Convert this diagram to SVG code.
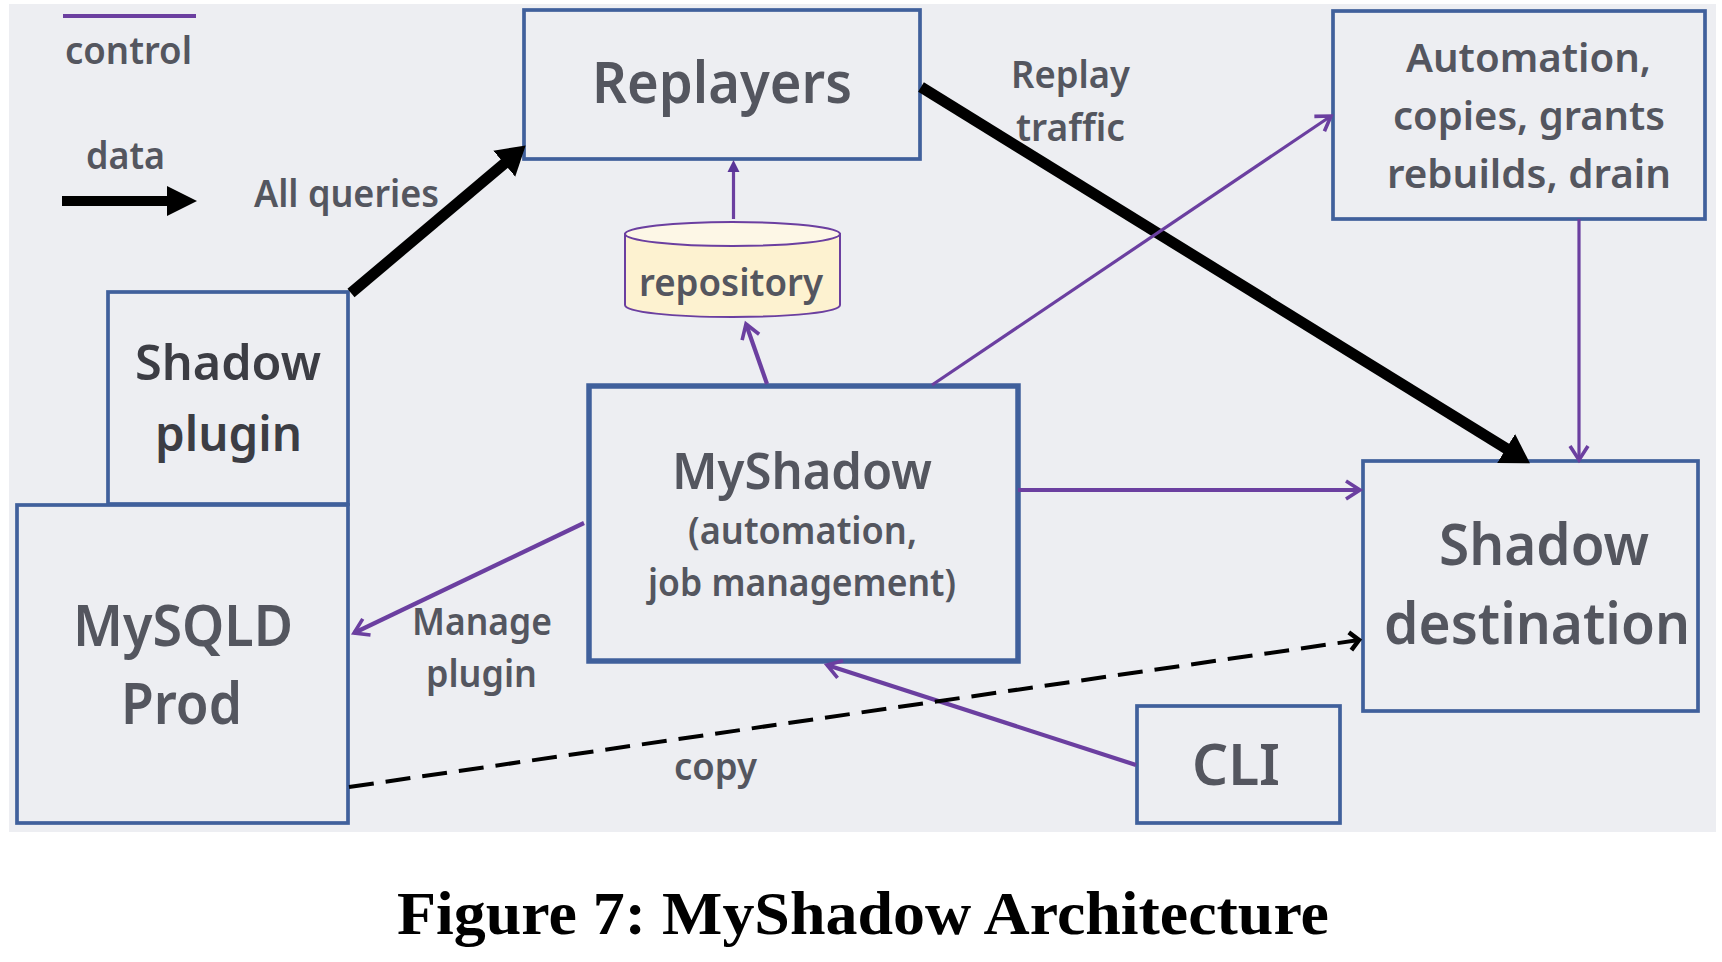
<svg xmlns="http://www.w3.org/2000/svg" width="1722" height="962" viewBox="0 0 1722 962">
<style>
text{font-family:"Noto Sans","Open Sans","Liberation Sans",sans-serif;font-weight:600;fill:#54565f;font-size:37px}
.lg{font-size:57px}.md{font-size:50px}.dk{fill:#3c3d44;font-size:48px}.sm{font-size:40px}
.cap{font-family:"Liberation Serif",serif;font-weight:700;fill:#000;font-size:61px}
.box{fill:#edeef2;stroke:#40609c;stroke-width:3.7}
.ctl{fill:none;stroke:#6b3fa0;stroke-width:3.2;marker-end:url(#open)}
.ctb{fill:none;stroke:#6b3fa0;stroke-width:4.2;marker-end:url(#open)}
.dat{fill:none;stroke:#000;stroke-width:11;marker-end:url(#solid)}
</style>
<defs>
<marker id="open" markerUnits="userSpaceOnUse" markerWidth="26" markerHeight="26" refX="21" refY="13" orient="auto"><path d="M7,4 L21,13 L7,22" fill="none" stroke="#6b3fa0" stroke-width="3.600"/></marker>
<marker id="tiny" markerUnits="userSpaceOnUse" markerWidth="14" markerHeight="14" refX="1" refY="7" orient="auto"><path d="M0,1 L12,7 L0,13 Z" fill="#5a3498"/></marker>
<marker id="solid" markerUnits="userSpaceOnUse" markerWidth="34" markerHeight="40" refX="1" refY="20" orient="auto"><path d="M0,3 L28,20 L0,37 Z" fill="#000"/></marker>
<marker id="dash" markerUnits="userSpaceOnUse" markerWidth="20" markerHeight="24" refX="15" refY="12" orient="auto"><path d="M6,3 L15,12 L6,21" fill="none" stroke="#000" stroke-width="4.500"/></marker>
</defs>
<rect id="background" x="9" y="4" width="1707" height="828" fill="#edeef2"/>
<g id="legend">
<path d="M63,16 H196" stroke="#6b3fa0" stroke-width="4" fill="none"/>
<text x="65" y="64" textLength="127" lengthAdjust="spacingAndGlyphs">control</text>
<text x="86" y="169" textLength="79" lengthAdjust="spacingAndGlyphs">data</text>
<path d="M62,196 H167 V186 L197,201 L167,216 V206 H62 Z" fill="#000"/>
</g>
<g id="replayers"><rect class="box" x="524" y="10" width="396" height="149"/>
<text class="lg" x="592" y="103" textLength="260" lengthAdjust="spacingAndGlyphs">Replayers</text></g>
<g id="automation"><rect class="box" x="1333" y="11" width="372" height="208"/>
<text class="sm" x="1406" y="72" textLength="245" lengthAdjust="spacingAndGlyphs">Automation,</text>
<text class="sm" x="1393" y="130" textLength="272" lengthAdjust="spacingAndGlyphs">copies, grants</text>
<text class="sm" x="1387" y="188" textLength="284" lengthAdjust="spacingAndGlyphs">rebuilds, drain</text></g>
<g id="repository">
<path d="M625,234 V305 C625,312 672,317 732.500,317 C793,317 840,312 840,305 V234 Z" fill="#fdf2d0" stroke="#6b3fa0" stroke-width="2"/>
<ellipse cx="732.500" cy="234" rx="107.500" ry="12" fill="#fdf7e6" stroke="#6b3fa0" stroke-width="2"/>
<text x="639" y="296" textLength="184" lengthAdjust="spacingAndGlyphs">repository</text></g>
<g id="shadow-plugin"><rect class="box" x="108" y="292" width="240" height="212"/>
<text class="dk" x="135" y="380" textLength="186" lengthAdjust="spacingAndGlyphs">Shadow</text>
<text class="dk" x="155" y="451" textLength="147" lengthAdjust="spacingAndGlyphs">plugin</text></g>
<g id="mysqld-prod"><rect class="box" x="17" y="505" width="331" height="318"/>
<text class="lg" x="73" y="646" textLength="220" lengthAdjust="spacingAndGlyphs">MySQLD</text>
<text class="lg" x="121" y="724" textLength="121" lengthAdjust="spacingAndGlyphs">Prod</text></g>
<g id="myshadow"><rect class="box" x="589" y="386" width="429" height="275" style="stroke-width:5.500"/>
<text class="md" x="672" y="489" textLength="260" lengthAdjust="spacingAndGlyphs">MyShadow</text>
<text x="688" y="544" textLength="229" lengthAdjust="spacingAndGlyphs">(automation,</text>
<text x="648" y="596" textLength="308" lengthAdjust="spacingAndGlyphs">job management)</text></g>
<g id="shadow-destination"><rect class="box" x="1363" y="461" width="335" height="250"/>
<text class="lg" x="1439" y="565" textLength="210" lengthAdjust="spacingAndGlyphs">Shadow</text>
<text class="lg" x="1384" y="644" textLength="306" lengthAdjust="spacingAndGlyphs">destination</text></g>
<g id="cli"><rect class="box" x="1137" y="706" width="203" height="117"/>
<text class="lg" x="1192" y="785" textLength="88" lengthAdjust="spacingAndGlyphs">CLI</text></g>
<g id="connectors">
<path class="dat" d="M351,293 L505,163"/>
<path class="dat" d="M921,87 L1507,449"/>
<path d="M733.500,219 V171" fill="none" stroke="#6b3fa0" stroke-width="3.200" marker-end="url(#tiny)"/>
<path class="ctb" d="M767,384 L746,324"/>
<path class="ctl" d="M932,385 L1331,116"/>
<path class="ctl" d="M1579,219 V460"/>
<path class="ctb" d="M1018,490 H1360"/>
<path class="ctb" d="M584,523 L354,633"/>
<path class="ctb" d="M1136,765 L827,665"/>
<path d="M349,787 L1359,640" fill="none" stroke="#000" stroke-width="4" stroke-dasharray="25 12" marker-end="url(#dash)"/>
</g>
<g id="labels">
<text x="254" y="207" textLength="185" lengthAdjust="spacingAndGlyphs">All queries</text>
<text x="1011" y="88" textLength="119" lengthAdjust="spacingAndGlyphs">Replay</text>
<text x="1016" y="141" textLength="109" lengthAdjust="spacingAndGlyphs">traffic</text>
<text x="412" y="635" textLength="140" lengthAdjust="spacingAndGlyphs">Manage</text>
<text x="426" y="687" textLength="111" lengthAdjust="spacingAndGlyphs">plugin</text>
<text x="674" y="780" textLength="83" lengthAdjust="spacingAndGlyphs">copy</text>
</g>
<text id="caption" class="cap" x="397" y="934" textLength="932" lengthAdjust="spacingAndGlyphs">Figure 7: MyShadow Architecture</text>
</svg>
